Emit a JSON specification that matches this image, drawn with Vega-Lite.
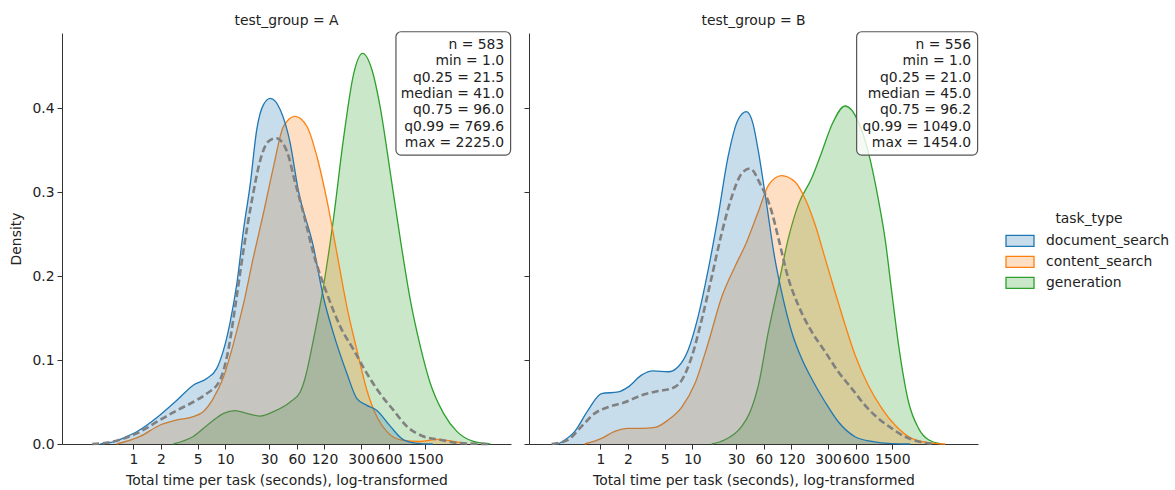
{
  "$schema": "https://vega.github.io/schema/vega-lite/v6.json",
  "background": "white",
  "padding": {"left": 9, "top": 14, "right": 5, "bottom": 3},
  "config": {
    "font": "DejaVu Sans",
    "view": {"stroke": null},
    "axis": {"grid": false, "domainColor": "#333333", "tickColor": "#333333", "labelColor": "#222222", "titleColor": "#222222", "labelFontSize": 13.9, "titleFontSize": 13.9, "titleFontWeight": "normal", "tickSize": 5, "labelPadding": 3, "titlePadding": 8, "labelFont": "DejaVu Sans", "titleFont": "DejaVu Sans"},
    "title": {"fontSize": 13.9, "fontWeight": "normal", "color": "#222222", "font": "DejaVu Sans", "offset": 3},
    "legend": {"titleFontSize": 13.9, "titleFontWeight": "normal", "titleColor": "#222222", "labelFontSize": 13.9, "labelColor": "#222222", "titleFont": "DejaVu Sans", "labelFont": "DejaVu Sans", "symbolType": "M-1.4,-0.55H1.4V0.55H-1.4Z", "symbolSize": 400, "labelOffset": 15, "rowPadding": 1, "titlePadding": 4, "padding": 0, "titleAnchor": "middle"}
  },
  "datasets": {
    "kde": [
      {"g": "A", "task_type": "document_search", "log_time": -0.83, "density": 0},
      {"g": "A", "task_type": "document_search", "log_time": -0.46, "density": 0.003},
      {"g": "A", "task_type": "document_search", "log_time": -0.21, "density": 0.008},
      {"g": "A", "task_type": "document_search", "log_time": 0.085, "density": 0.0146},
      {"g": "A", "task_type": "document_search", "log_time": 0.67, "density": 0.0345},
      {"g": "A", "task_type": "document_search", "log_time": 1.09, "density": 0.052},
      {"g": "A", "task_type": "document_search", "log_time": 1.5, "density": 0.07},
      {"g": "A", "task_type": "document_search", "log_time": 1.84, "density": 0.078},
      {"g": "A", "task_type": "document_search", "log_time": 2.09, "density": 0.09},
      {"g": "A", "task_type": "document_search", "log_time": 2.26, "density": 0.112},
      {"g": "A", "task_type": "document_search", "log_time": 2.42, "density": 0.144},
      {"g": "A", "task_type": "document_search", "log_time": 2.59, "density": 0.19},
      {"g": "A", "task_type": "document_search", "log_time": 2.76, "density": 0.255},
      {"g": "A", "task_type": "document_search", "log_time": 2.93, "density": 0.31},
      {"g": "A", "task_type": "document_search", "log_time": 3.09, "density": 0.374},
      {"g": "A", "task_type": "document_search", "log_time": 3.26, "density": 0.404},
      {"g": "A", "task_type": "document_search", "log_time": 3.43, "density": 0.4115},
      {"g": "A", "task_type": "document_search", "log_time": 3.68, "density": 0.398},
      {"g": "A", "task_type": "document_search", "log_time": 3.93, "density": 0.358},
      {"g": "A", "task_type": "document_search", "log_time": 4.12, "density": 0.305},
      {"g": "A", "task_type": "document_search", "log_time": 4.51, "density": 0.235},
      {"g": "A", "task_type": "document_search", "log_time": 4.76, "density": 0.175},
      {"g": "A", "task_type": "document_search", "log_time": 5.01, "density": 0.132},
      {"g": "A", "task_type": "document_search", "log_time": 5.35, "density": 0.084},
      {"g": "A", "task_type": "document_search", "log_time": 5.6, "density": 0.054},
      {"g": "A", "task_type": "document_search", "log_time": 5.85, "density": 0.046},
      {"g": "A", "task_type": "document_search", "log_time": 6.1, "density": 0.04},
      {"g": "A", "task_type": "document_search", "log_time": 6.44, "density": 0.021},
      {"g": "A", "task_type": "document_search", "log_time": 6.77, "density": 0.005},
      {"g": "A", "task_type": "document_search", "log_time": 7.19, "density": 0.0005},
      {"g": "A", "task_type": "document_search", "log_time": 7.5, "density": 0},
      {"g": "A", "task_type": "content_search", "log_time": -0.42, "density": 0},
      {"g": "A", "task_type": "content_search", "log_time": 0.17, "density": 0.009},
      {"g": "A", "task_type": "content_search", "log_time": 0.67, "density": 0.0226},
      {"g": "A", "task_type": "content_search", "log_time": 1.09, "density": 0.0286},
      {"g": "A", "task_type": "content_search", "log_time": 1.5, "density": 0.0325},
      {"g": "A", "task_type": "content_search", "log_time": 1.75, "density": 0.0385},
      {"g": "A", "task_type": "content_search", "log_time": 2.0, "density": 0.054},
      {"g": "A", "task_type": "content_search", "log_time": 2.26, "density": 0.08},
      {"g": "A", "task_type": "content_search", "log_time": 2.51, "density": 0.12},
      {"g": "A", "task_type": "content_search", "log_time": 2.76, "density": 0.167},
      {"g": "A", "task_type": "content_search", "log_time": 3.01, "density": 0.223},
      {"g": "A", "task_type": "content_search", "log_time": 3.26, "density": 0.275},
      {"g": "A", "task_type": "content_search", "log_time": 3.51, "density": 0.33},
      {"g": "A", "task_type": "content_search", "log_time": 3.76, "density": 0.378},
      {"g": "A", "task_type": "content_search", "log_time": 4.05, "density": 0.39},
      {"g": "A", "task_type": "content_search", "log_time": 4.35, "density": 0.378},
      {"g": "A", "task_type": "content_search", "log_time": 4.6, "density": 0.342},
      {"g": "A", "task_type": "content_search", "log_time": 4.85, "density": 0.29},
      {"g": "A", "task_type": "content_search", "log_time": 5.1, "density": 0.227},
      {"g": "A", "task_type": "content_search", "log_time": 5.35, "density": 0.163},
      {"g": "A", "task_type": "content_search", "log_time": 5.6, "density": 0.112},
      {"g": "A", "task_type": "content_search", "log_time": 5.85, "density": 0.064},
      {"g": "A", "task_type": "content_search", "log_time": 6.1, "density": 0.0325},
      {"g": "A", "task_type": "content_search", "log_time": 6.35, "density": 0.0147},
      {"g": "A", "task_type": "content_search", "log_time": 6.69, "density": 0.005},
      {"g": "A", "task_type": "content_search", "log_time": 7.19, "density": 0.003},
      {"g": "A", "task_type": "content_search", "log_time": 7.61, "density": 0.0056},
      {"g": "A", "task_type": "content_search", "log_time": 7.94, "density": 0.0036},
      {"g": "A", "task_type": "content_search", "log_time": 8.36, "density": 0},
      {"g": "A", "task_type": "generation", "log_time": 1.0, "density": 0},
      {"g": "A", "task_type": "generation", "log_time": 1.5, "density": 0.009},
      {"g": "A", "task_type": "generation", "log_time": 1.92, "density": 0.025},
      {"g": "A", "task_type": "generation", "log_time": 2.26, "density": 0.0365},
      {"g": "A", "task_type": "generation", "log_time": 2.55, "density": 0.0397},
      {"g": "A", "task_type": "generation", "log_time": 2.84, "density": 0.0365},
      {"g": "A", "task_type": "generation", "log_time": 3.18, "density": 0.0333},
      {"g": "A", "task_type": "generation", "log_time": 3.51, "density": 0.0385},
      {"g": "A", "task_type": "generation", "log_time": 3.93, "density": 0.05},
      {"g": "A", "task_type": "generation", "log_time": 4.18, "density": 0.062},
      {"g": "A", "task_type": "generation", "log_time": 4.3, "density": 0.078},
      {"g": "A", "task_type": "generation", "log_time": 4.51, "density": 0.124},
      {"g": "A", "task_type": "generation", "log_time": 4.76, "density": 0.187},
      {"g": "A", "task_type": "generation", "log_time": 5.01, "density": 0.267},
      {"g": "A", "task_type": "generation", "log_time": 5.26, "density": 0.362},
      {"g": "A", "task_type": "generation", "log_time": 5.52, "density": 0.441},
      {"g": "A", "task_type": "generation", "log_time": 5.74, "density": 0.465},
      {"g": "A", "task_type": "generation", "log_time": 5.98, "density": 0.445},
      {"g": "A", "task_type": "generation", "log_time": 6.18, "density": 0.402},
      {"g": "A", "task_type": "generation", "log_time": 6.44, "density": 0.322},
      {"g": "A", "task_type": "generation", "log_time": 6.69, "density": 0.243},
      {"g": "A", "task_type": "generation", "log_time": 6.94, "density": 0.171},
      {"g": "A", "task_type": "generation", "log_time": 7.19, "density": 0.116},
      {"g": "A", "task_type": "generation", "log_time": 7.44, "density": 0.072},
      {"g": "A", "task_type": "generation", "log_time": 7.77, "density": 0.0365},
      {"g": "A", "task_type": "generation", "log_time": 8.11, "density": 0.0147},
      {"g": "A", "task_type": "generation", "log_time": 8.52, "density": 0.003},
      {"g": "A", "task_type": "generation", "log_time": 8.94, "density": 0},
      {"g": "B", "task_type": "document_search", "log_time": -1.06, "density": 0},
      {"g": "B", "task_type": "document_search", "log_time": -0.64, "density": 0.015},
      {"g": "B", "task_type": "document_search", "log_time": -0.31, "density": 0.04},
      {"g": "B", "task_type": "document_search", "log_time": 0.03, "density": 0.06},
      {"g": "B", "task_type": "document_search", "log_time": 0.45, "density": 0.062},
      {"g": "B", "task_type": "document_search", "log_time": 0.7, "density": 0.068},
      {"g": "B", "task_type": "document_search", "log_time": 1.03, "density": 0.082},
      {"g": "B", "task_type": "document_search", "log_time": 1.32, "density": 0.087},
      {"g": "B", "task_type": "document_search", "log_time": 1.7, "density": 0.086},
      {"g": "B", "task_type": "document_search", "log_time": 1.95, "density": 0.092},
      {"g": "B", "task_type": "document_search", "log_time": 2.2, "density": 0.112},
      {"g": "B", "task_type": "document_search", "log_time": 2.45, "density": 0.152},
      {"g": "B", "task_type": "document_search", "log_time": 2.7, "density": 0.207},
      {"g": "B", "task_type": "document_search", "log_time": 2.95, "density": 0.271},
      {"g": "B", "task_type": "document_search", "log_time": 3.2, "density": 0.342},
      {"g": "B", "task_type": "document_search", "log_time": 3.45, "density": 0.386},
      {"g": "B", "task_type": "document_search", "log_time": 3.66, "density": 0.3956},
      {"g": "B", "task_type": "document_search", "log_time": 3.82, "density": 0.382},
      {"g": "B", "task_type": "document_search", "log_time": 3.96, "density": 0.348},
      {"g": "B", "task_type": "document_search", "log_time": 4.12, "density": 0.3},
      {"g": "B", "task_type": "document_search", "log_time": 4.37, "density": 0.221},
      {"g": "B", "task_type": "document_search", "log_time": 4.54, "density": 0.181},
      {"g": "B", "task_type": "document_search", "log_time": 4.79, "density": 0.134},
      {"g": "B", "task_type": "document_search", "log_time": 5.04, "density": 0.102},
      {"g": "B", "task_type": "document_search", "log_time": 5.29, "density": 0.078},
      {"g": "B", "task_type": "document_search", "log_time": 5.63, "density": 0.05},
      {"g": "B", "task_type": "document_search", "log_time": 5.96, "density": 0.0265},
      {"g": "B", "task_type": "document_search", "log_time": 6.38, "density": 0.0087},
      {"g": "B", "task_type": "document_search", "log_time": 6.8, "density": 0.003},
      {"g": "B", "task_type": "document_search", "log_time": 7.3, "density": 0.0004},
      {"g": "B", "task_type": "document_search", "log_time": 7.76, "density": 0},
      {"g": "B", "task_type": "content_search", "log_time": -0.39, "density": 0},
      {"g": "B", "task_type": "content_search", "log_time": 0.03, "density": 0.0067},
      {"g": "B", "task_type": "content_search", "log_time": 0.36, "density": 0.015},
      {"g": "B", "task_type": "content_search", "log_time": 0.7, "density": 0.0186},
      {"g": "B", "task_type": "content_search", "log_time": 1.03, "density": 0.0186},
      {"g": "B", "task_type": "content_search", "log_time": 1.37, "density": 0.0198},
      {"g": "B", "task_type": "content_search", "log_time": 1.7, "density": 0.0286},
      {"g": "B", "task_type": "content_search", "log_time": 2.04, "density": 0.044},
      {"g": "B", "task_type": "content_search", "log_time": 2.37, "density": 0.072},
      {"g": "B", "task_type": "content_search", "log_time": 2.7, "density": 0.12},
      {"g": "B", "task_type": "content_search", "log_time": 3.04, "density": 0.175},
      {"g": "B", "task_type": "content_search", "log_time": 3.37, "density": 0.211},
      {"g": "B", "task_type": "content_search", "log_time": 3.66, "density": 0.24},
      {"g": "B", "task_type": "content_search", "log_time": 3.96, "density": 0.277},
      {"g": "B", "task_type": "content_search", "log_time": 4.21, "density": 0.308},
      {"g": "B", "task_type": "content_search", "log_time": 4.54, "density": 0.3196},
      {"g": "B", "task_type": "content_search", "log_time": 4.88, "density": 0.312},
      {"g": "B", "task_type": "content_search", "log_time": 5.13, "density": 0.292},
      {"g": "B", "task_type": "content_search", "log_time": 5.38, "density": 0.261},
      {"g": "B", "task_type": "content_search", "log_time": 5.63, "density": 0.221},
      {"g": "B", "task_type": "content_search", "log_time": 5.88, "density": 0.181},
      {"g": "B", "task_type": "content_search", "log_time": 6.13, "density": 0.142},
      {"g": "B", "task_type": "content_search", "log_time": 6.38, "density": 0.106},
      {"g": "B", "task_type": "content_search", "log_time": 6.71, "density": 0.07},
      {"g": "B", "task_type": "content_search", "log_time": 7.05, "density": 0.0425},
      {"g": "B", "task_type": "content_search", "log_time": 7.38, "density": 0.0226},
      {"g": "B", "task_type": "content_search", "log_time": 7.8, "density": 0.0067},
      {"g": "B", "task_type": "content_search", "log_time": 8.3, "density": 0.001},
      {"g": "B", "task_type": "content_search", "log_time": 8.64, "density": 0},
      {"g": "B", "task_type": "generation", "log_time": 2.79, "density": 0},
      {"g": "B", "task_type": "generation", "log_time": 3.12, "density": 0.005},
      {"g": "B", "task_type": "generation", "log_time": 3.54, "density": 0.021},
      {"g": "B", "task_type": "generation", "log_time": 3.75, "density": 0.038},
      {"g": "B", "task_type": "generation", "log_time": 3.96, "density": 0.07},
      {"g": "B", "task_type": "generation", "log_time": 4.21, "density": 0.134},
      {"g": "B", "task_type": "generation", "log_time": 4.46, "density": 0.189},
      {"g": "B", "task_type": "generation", "log_time": 4.71, "density": 0.245},
      {"g": "B", "task_type": "generation", "log_time": 4.96, "density": 0.285},
      {"g": "B", "task_type": "generation", "log_time": 5.29, "density": 0.316},
      {"g": "B", "task_type": "generation", "log_time": 5.55, "density": 0.348},
      {"g": "B", "task_type": "generation", "log_time": 5.8, "density": 0.38},
      {"g": "B", "task_type": "generation", "log_time": 6.13, "density": 0.4024},
      {"g": "B", "task_type": "generation", "log_time": 6.46, "density": 0.384},
      {"g": "B", "task_type": "generation", "log_time": 6.71, "density": 0.348},
      {"g": "B", "task_type": "generation", "log_time": 6.96, "density": 0.292},
      {"g": "B", "task_type": "generation", "log_time": 7.13, "density": 0.245},
      {"g": "B", "task_type": "generation", "log_time": 7.3, "density": 0.181},
      {"g": "B", "task_type": "generation", "log_time": 7.47, "density": 0.118},
      {"g": "B", "task_type": "generation", "log_time": 7.72, "density": 0.05},
      {"g": "B", "task_type": "generation", "log_time": 7.97, "density": 0.0186},
      {"g": "B", "task_type": "generation", "log_time": 8.22, "density": 0.005},
      {"g": "B", "task_type": "generation", "log_time": 8.55, "density": 0}
    ],
    "overall": [
      {"g": "A", "log_time": -1.03, "density": 0},
      {"g": "A", "log_time": -0.5, "density": 0.003},
      {"g": "A", "log_time": 0.085, "density": 0.0127},
      {"g": "A", "log_time": 0.67, "density": 0.0286},
      {"g": "A", "log_time": 1.09, "density": 0.04},
      {"g": "A", "log_time": 1.5, "density": 0.05},
      {"g": "A", "log_time": 1.84, "density": 0.06},
      {"g": "A", "log_time": 2.17, "density": 0.076},
      {"g": "A", "log_time": 2.38, "density": 0.112},
      {"g": "A", "log_time": 2.55, "density": 0.163},
      {"g": "A", "log_time": 2.76, "density": 0.231},
      {"g": "A", "log_time": 2.97, "density": 0.29},
      {"g": "A", "log_time": 3.18, "density": 0.338},
      {"g": "A", "log_time": 3.38, "density": 0.36},
      {"g": "A", "log_time": 3.58, "density": 0.364},
      {"g": "A", "log_time": 3.85, "density": 0.348},
      {"g": "A", "log_time": 4.05, "density": 0.312},
      {"g": "A", "log_time": 4.26, "density": 0.275},
      {"g": "A", "log_time": 4.51, "density": 0.227},
      {"g": "A", "log_time": 4.85, "density": 0.179},
      {"g": "A", "log_time": 5.18, "density": 0.14},
      {"g": "A", "log_time": 5.52, "density": 0.112},
      {"g": "A", "log_time": 5.85, "density": 0.084},
      {"g": "A", "log_time": 6.18, "density": 0.06},
      {"g": "A", "log_time": 6.52, "density": 0.04},
      {"g": "A", "log_time": 6.85, "density": 0.021},
      {"g": "A", "log_time": 7.27, "density": 0.009},
      {"g": "A", "log_time": 7.69, "density": 0.005},
      {"g": "A", "log_time": 8.19, "density": 0.001},
      {"g": "A", "log_time": 8.94, "density": 0},
      {"g": "B", "log_time": -1.22, "density": 0},
      {"g": "B", "log_time": -0.81, "density": 0.005},
      {"g": "B", "log_time": -0.47, "density": 0.021},
      {"g": "B", "log_time": -0.14, "density": 0.0365},
      {"g": "B", "log_time": 0.2, "density": 0.044},
      {"g": "B", "log_time": 0.61, "density": 0.0496},
      {"g": "B", "log_time": 1.03, "density": 0.058},
      {"g": "B", "log_time": 1.45, "density": 0.063},
      {"g": "B", "log_time": 1.78, "density": 0.066},
      {"g": "B", "log_time": 2.04, "density": 0.076},
      {"g": "B", "log_time": 2.29, "density": 0.104},
      {"g": "B", "log_time": 2.54, "density": 0.148},
      {"g": "B", "log_time": 2.79, "density": 0.199},
      {"g": "B", "log_time": 3.04, "density": 0.251},
      {"g": "B", "log_time": 3.29, "density": 0.294},
      {"g": "B", "log_time": 3.54, "density": 0.322},
      {"g": "B", "log_time": 3.75, "density": 0.328},
      {"g": "B", "log_time": 4.0, "density": 0.31},
      {"g": "B", "log_time": 4.29, "density": 0.277},
      {"g": "B", "log_time": 4.46, "density": 0.245},
      {"g": "B", "log_time": 4.71, "density": 0.197},
      {"g": "B", "log_time": 4.96, "density": 0.165},
      {"g": "B", "log_time": 5.29, "density": 0.134},
      {"g": "B", "log_time": 5.63, "density": 0.11},
      {"g": "B", "log_time": 5.96, "density": 0.086},
      {"g": "B", "log_time": 6.3, "density": 0.066},
      {"g": "B", "log_time": 6.63, "density": 0.046},
      {"g": "B", "log_time": 6.96, "density": 0.0306},
      {"g": "B", "log_time": 7.3, "density": 0.0186},
      {"g": "B", "log_time": 7.63, "density": 0.0087},
      {"g": "B", "log_time": 7.97, "density": 0.003},
      {"g": "B", "log_time": 8.38, "density": 0}
    ],
    "stats": [
      {"g": "A", "label": "n = 583\nmin = 1.0\nq0.25 = 21.5\nmedian = 41.0\nq0.75 = 96.0\nq0.99 = 769.6\nmax = 2225.0"},
      {"g": "B", "label": "n = 556\nmin = 1.0\nq0.25 = 21.0\nmedian = 45.0\nq0.75 = 96.2\nq0.99 = 1049.0\nmax = 1454.0"}
    ]
  },
  "spacing": 11,
  "hconcat": [
    {
      "width": 449,
      "height": 411,
      "title": {"text": "test_group = A", "fontSize": 13.9, "fontWeight": "normal", "offset": 3},
      "layer": [
        {
          "encoding": {
            "x": {"field": "log_time", "type": "quantitative", "scale": {"domain": [-1.787, 9.46], "nice": false, "zero": false}, "axis": {"values": [0, 0.6931, 1.6094, 2.3026, 3.4012, 4.0943, 4.7875, 5.7038, 6.3969, 7.3132], "labelExpr": "format(round(exp(datum.value)), 'd')", "title": "Total time per task (seconds), log-transformed", "labelFlush": false}},
            "y": {"field": "density", "type": "quantitative", "scale": {"domain": [0, 0.4893], "nice": false}, "axis": {"values": [0, 0.1, 0.2, 0.3, 0.4], "format": ".1f", "title": "Density"}}
          },
          "layer": [
            {"data": {"name": "kde"}, "transform": [{"filter": "datum.g === 'A' && datum.task_type === 'generation'"}],
             "mark": {"type": "area", "fillOpacity": 0.25, "interpolate": "monotone", "line": {"strokeWidth": 1.3}},
             "encoding": {"color": {"field": "task_type", "type": "nominal", "title": "task_type",
               "scale": {"domain": ["document_search", "content_search", "generation"], "range": ["#1f77b4", "#ff7f0e", "#2ca02c"]},
               "legend": {"orient": "none", "legendX": 947, "legendY": 179,
                 "encode": {"symbols": {"update": {"fillOpacity": {"value": 0.25}, "stroke": {"scale": "color", "field": "value"}, "strokeWidth": {"value": 1.3}, "strokeOpacity": {"value": 1}}}}}}}},
            {"data": {"name": "kde"}, "transform": [{"filter": "datum.g === 'A' && datum.task_type === 'content_search'"}],
             "mark": {"type": "area", "fillOpacity": 0.25, "interpolate": "monotone", "line": {"strokeWidth": 1.3}},
             "encoding": {"color": {"field": "task_type", "type": "nominal", "title": "task_type"}}},
            {"data": {"name": "kde"}, "transform": [{"filter": "datum.g === 'A' && datum.task_type === 'document_search'"}],
             "mark": {"type": "area", "fillOpacity": 0.25, "interpolate": "monotone", "line": {"strokeWidth": 1.3}},
             "encoding": {"color": {"field": "task_type", "type": "nominal", "title": "task_type"}}},
            {"data": {"name": "overall"}, "transform": [{"filter": "datum.g === 'A'"}],
             "mark": {"type": "line", "color": "#808080", "strokeWidth": 2.6, "strokeDash": [7, 3.5], "interpolate": "monotone"}}
          ]
        },
        {"data": {"name": "stats"}, "transform": [{"filter": "datum.g === 'A'"}],
         "mark": {"type": "rect", "fill": "white", "fillOpacity": 0.8, "stroke": "#555555", "strokeWidth": 1.2, "cornerRadius": 5, "clip": false},
         "encoding": {"x": {"datum": 6.578, "type": "quantitative"}, "x2": {"datum": 9.45}, "y": {"datum": 0.4908, "type": "quantitative"}, "y2": {"datum": 0.344}}},
        {"data": {"name": "stats"}, "transform": [{"filter": "datum.g === 'A'"}],
         "mark": {"type": "text", "align": "right", "baseline": "top", "lineBreak": "\n", "lineHeight": 16.3, "fontSize": 13.9, "color": "#222222", "font": "DejaVu Sans"},
         "encoding": {"x": {"datum": 9.29, "type": "quantitative"}, "y": {"datum": 0.4833, "type": "quantitative"}, "text": {"field": "label"}}}
      ]
    },
    {
      "width": 449,
      "height": 411,
      "title": {"text": "test_group = B", "fontSize": 13.9, "fontWeight": "normal", "offset": 3},
      "layer": [
        {
          "encoding": {
            "x": {"field": "log_time", "type": "quantitative", "scale": {"domain": [-1.787, 9.46], "nice": false, "zero": false}, "axis": {"values": [0, 0.6931, 1.6094, 2.3026, 3.4012, 4.0943, 4.7875, 5.7038, 6.3969, 7.3132], "labelExpr": "format(round(exp(datum.value)), 'd')", "title": "Total time per task (seconds), log-transformed", "labelFlush": false}},
            "y": {"field": "density", "type": "quantitative", "scale": {"domain": [0, 0.4893], "nice": false}, "axis": {"values": [0, 0.1, 0.2, 0.3, 0.4], "labels": false, "title": null}}
          },
          "layer": [
            {"data": {"name": "kde"}, "transform": [{"filter": "datum.g === 'B' && datum.task_type === 'generation'"}],
             "mark": {"type": "area", "fillOpacity": 0.25, "interpolate": "monotone", "line": {"strokeWidth": 1.3}},
             "encoding": {"color": {"field": "task_type", "type": "nominal", "title": "task_type"}}},
            {"data": {"name": "kde"}, "transform": [{"filter": "datum.g === 'B' && datum.task_type === 'content_search'"}],
             "mark": {"type": "area", "fillOpacity": 0.25, "interpolate": "monotone", "line": {"strokeWidth": 1.3}},
             "encoding": {"color": {"field": "task_type", "type": "nominal", "title": "task_type"}}},
            {"data": {"name": "kde"}, "transform": [{"filter": "datum.g === 'B' && datum.task_type === 'document_search'"}],
             "mark": {"type": "area", "fillOpacity": 0.25, "interpolate": "monotone", "line": {"strokeWidth": 1.3}},
             "encoding": {"color": {"field": "task_type", "type": "nominal", "title": "task_type"}}},
            {"data": {"name": "overall"}, "transform": [{"filter": "datum.g === 'B'"}],
             "mark": {"type": "line", "color": "#808080", "strokeWidth": 2.6, "strokeDash": [7, 3.5], "interpolate": "monotone"}}
          ]
        },
        {"data": {"name": "stats"}, "transform": [{"filter": "datum.g === 'B'"}],
         "mark": {"type": "rect", "fill": "white", "fillOpacity": 0.8, "stroke": "#555555", "strokeWidth": 1.2, "cornerRadius": 5, "clip": false},
         "encoding": {"x": {"datum": 6.42, "type": "quantitative"}, "x2": {"datum": 9.45}, "y": {"datum": 0.4908, "type": "quantitative"}, "y2": {"datum": 0.344}}},
        {"data": {"name": "stats"}, "transform": [{"filter": "datum.g === 'B'"}],
         "mark": {"type": "text", "align": "right", "baseline": "top", "lineBreak": "\n", "lineHeight": 16.3, "fontSize": 13.9, "color": "#222222", "font": "DejaVu Sans"},
         "encoding": {"x": {"datum": 9.29, "type": "quantitative"}, "y": {"datum": 0.4833, "type": "quantitative"}, "text": {"field": "label"}}}
      ]
    }
  ],
  "resolve": {"scale": {"color": "shared"}}
}
